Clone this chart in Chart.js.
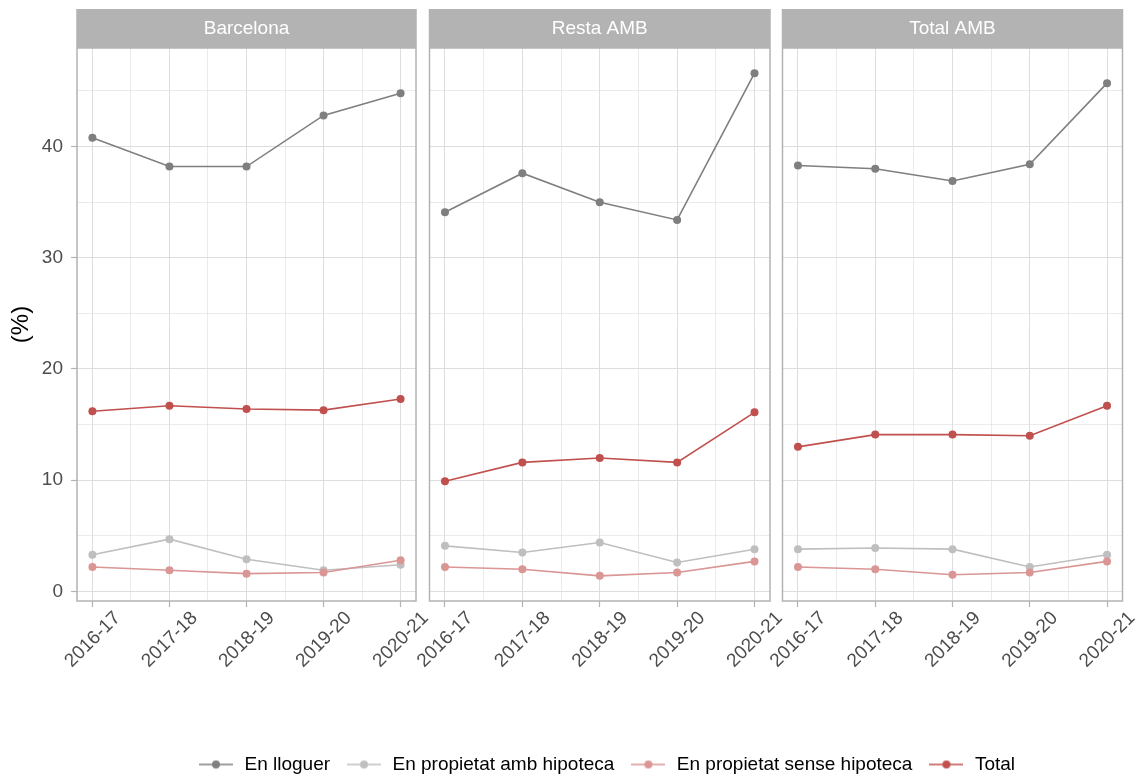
<!DOCTYPE html>
<html><head><meta charset="utf-8">
<script src="https://cdn.jsdelivr.net/npm/chart.js@4.4.1/dist/chart.umd.min.js"></script>
<style>
html,body{margin:0;padding:0;background:#fff;overflow:hidden;width:1140px;height:776px;position:relative}
canvas{position:absolute;left:0;top:0}
</style></head><body>
<canvas id="p0" width="1140" height="700"></canvas>
<canvas id="p1" width="1140" height="700"></canvas>
<canvas id="p2" width="1140" height="700"></canvas>
<canvas id="lg" width="1140" height="100" style="top:740px"></canvas>
<script>
// ---- data ----
const categories = ['2016-17', '2017-18', '2018-19', '2019-20', '2020-21'];
const panels = ['Barcelona', 'Resta AMB', 'Total AMB'];
const seriesNames = ['En lloguer', 'En propietat amb hipoteca', 'En propietat sense hipoteca', 'Total'];
const yTickValues = [0, 5, 10, 15, 20, 25, 30, 35, 40, 45];

const bcnLloguer = [40.8, 38.2, 38.2, 42.8, 44.8];
const bcnAmbHipoteca = [3.3, 4.7, 2.9, 1.9, 2.4];
const bcnSenseHipoteca = [2.2, 1.9, 1.6, 1.7, 2.8];
const bcnTotal = [16.2, 16.7, 16.4, 16.3, 17.3];

const restaLloguer = [34.1, 37.6, 35.0, 33.4, 46.6];
const restaAmbHipoteca = [4.1, 3.5, 4.4, 2.6, 3.8];
const restaSenseHipoteca = [2.2, 2.0, 1.4, 1.7, 2.7];
const restaTotal = [9.9, 11.6, 12.0, 11.6, 16.1];

const ambLloguer = [38.3, 38.0, 36.9, 38.4, 45.7];
const ambAmbHipoteca = [3.8, 3.9, 3.8, 2.2, 3.3];
const ambSenseHipoteca = [2.2, 2.0, 1.5, 1.7, 2.7];
const ambTotal = [13.0, 14.1, 14.1, 14.0, 16.7];

const panelData = [
  [bcnLloguer, bcnAmbHipoteca, bcnSenseHipoteca, bcnTotal],
  [restaLloguer, restaAmbHipoteca, restaSenseHipoteca, restaTotal],
  [ambLloguer, ambAmbHipoteca, ambSenseHipoteca, ambTotal]
];

// ---- styles ----
const colors = ['#7f7f7f', '#bfbfbf', '#d99694', '#c0504d'];
const FONT = "'Liberation Sans', Arial, sans-serif";
Chart.defaults.font.family = FONT;
const Y_MIN = -0.86, Y_MAX = 48.86;
const X_MIN = -0.2, X_MAX = 4.2;
const CANVAS_H = 700, PLOT_TOP = 48, PLOT_BOTTOM = 601;
const panelPad = [
  {left: 0, right: 724},
  {left: 429.5, right: 370},
  {left: 782.5, right: 17.5}
];

const facetPlugin = {
  id: 'facet',
  afterDraw(chart, args, opts) {
    const {ctx, chartArea: a} = chart;
    ctx.save();
    ctx.fillStyle = '#b3b3b3';
    ctx.fillRect(a.left - 0.75, 9, a.right - a.left + 1.5, PLOT_TOP - 9);
    ctx.fillStyle = '#ffffff';
    ctx.font = '19px ' + FONT;
    ctx.textAlign = 'center';
    ctx.textBaseline = 'middle';
    ctx.fillText(opts.title, (a.left + a.right) / 2, 29);
    ctx.strokeStyle = '#b3b3b3';
    ctx.lineWidth = 1.5;
    ctx.strokeRect(a.left, a.top, a.right - a.left, a.bottom - a.top);
    ctx.restore();
  }
};

function isMajorY(c) { return c.tick && c.tick.value % 10 === 0; }
function isMajorX(c) { return c.tick && Number.isInteger(c.tick.value); }

panelData.forEach((series, p) => {
  const first = p === 0;
  new Chart(document.getElementById('p' + p), {
    type: 'line',
    data: {
      datasets: series.map((vals, i) => ({
        label: seriesNames[i],
        data: vals.map((v, k) => ({x: k, y: v})),
        borderColor: colors[i],
        backgroundColor: colors[i],
        pointBackgroundColor: colors[i],
        pointBorderWidth: 0,
        pointRadius: 4,
        pointHoverRadius: 4,
        borderWidth: 1.6,
        tension: 0,
        order: 3 - i
      }))
    },
    options: {
      responsive: false,
      animation: false,
      events: [],
      layout: {padding: {left: panelPad[p].left, right: panelPad[p].right, top: PLOT_TOP, bottom: 0}},
      scales: {
        x: {
          type: 'linear', min: X_MIN, max: X_MAX,
          afterBuildTicks: s => { s.ticks = [0, 0.5, 1, 1.5, 2, 2.5, 3, 3.5, 4].map(v => ({value: v})); },
          afterFit: s => { s.height = CANVAS_H - PLOT_BOTTOM; },
          border: {display: false},
          grid: {
            color: '#dedede',
            lineWidth: c => isMajorX(c) ? 1 : 0.6,
            tickColor: c => isMajorX(c) ? '#b3b3b3' : 'rgba(0,0,0,0)',
            tickLength: 6, tickWidth: 1.2
          },
          ticks: {
            autoSkip: false, minRotation: 45, maxRotation: 45,
            labelOffset: 25, padding: 0,
            color: '#4d4d4d', font: {size: 19},
            callback: v => Number.isInteger(v) ? categories[v] : ''
          }
        },
        y: {
          min: Y_MIN, max: Y_MAX,
          afterBuildTicks: s => { s.ticks = yTickValues.map(v => ({value: v})); },
          afterFit: s => { s.width = first ? 77 : 0; },
          border: {display: false},
          grid: {
            color: '#dedede',
            lineWidth: c => isMajorY(c) ? 1 : 0.6,
            tickColor: c => isMajorY(c) ? '#b3b3b3' : 'rgba(0,0,0,0)',
            drawTicks: first, tickLength: 6, tickWidth: 1.2
          },
          ticks: {
            display: first, padding: 8,
            color: '#4d4d4d', font: {size: 19},
            callback: v => v % 10 === 0 ? String(v) : ''
          },
          title: {
            display: first, text: '(%)', color: '#000000',
            font: {size: 24}, padding: {top: 7, bottom: 0}
          }
        }
      },
      plugins: {
        legend: {display: false},
        tooltip: {enabled: false},
        facet: {title: panels[p]}
      }
    },
    plugins: [facetPlugin]
  });
});

// ---- legend ----
function keyImage(color) {
  const c = document.createElement('canvas');
  c.width = 34; c.height = 12;
  const g = c.getContext('2d');
  g.strokeStyle = color; g.lineWidth = 1.6;
  g.beginPath(); g.moveTo(0, 6); g.lineTo(34, 6); g.stroke();
  g.fillStyle = color;
  g.beginPath(); g.arc(17, 6, 4, 0, Math.PI * 2); g.fill();
  return c;
}

new Chart(document.getElementById('lg'), {
  type: 'line',
  data: {
    labels: [],
    datasets: seriesNames.map((n, i) => ({label: n, data: [], borderColor: colors[i], backgroundColor: colors[i]}))
  },
  options: {
    responsive: false,
    animation: false,
    events: [],
    layout: {padding: {left: 72, right: 0, top: 0, bottom: 0}},
    scales: {x: {display: false}, y: {display: false}},
    plugins: {
      tooltip: {enabled: false},
      legend: {
        position: 'top',
        labels: {
          usePointStyle: true, pointStyleWidth: 38, padding: 15,
          color: '#000000', font: {size: 19},
          generateLabels: chart => chart.data.datasets.map((d, i) => ({
            text: d.label, pointStyle: keyImage(d.borderColor),
            fillStyle: d.borderColor, strokeStyle: d.borderColor,
            lineWidth: 0, hidden: false, datasetIndex: i
          }))
        }
      }
    }
  }
});
</script>
</body></html>
